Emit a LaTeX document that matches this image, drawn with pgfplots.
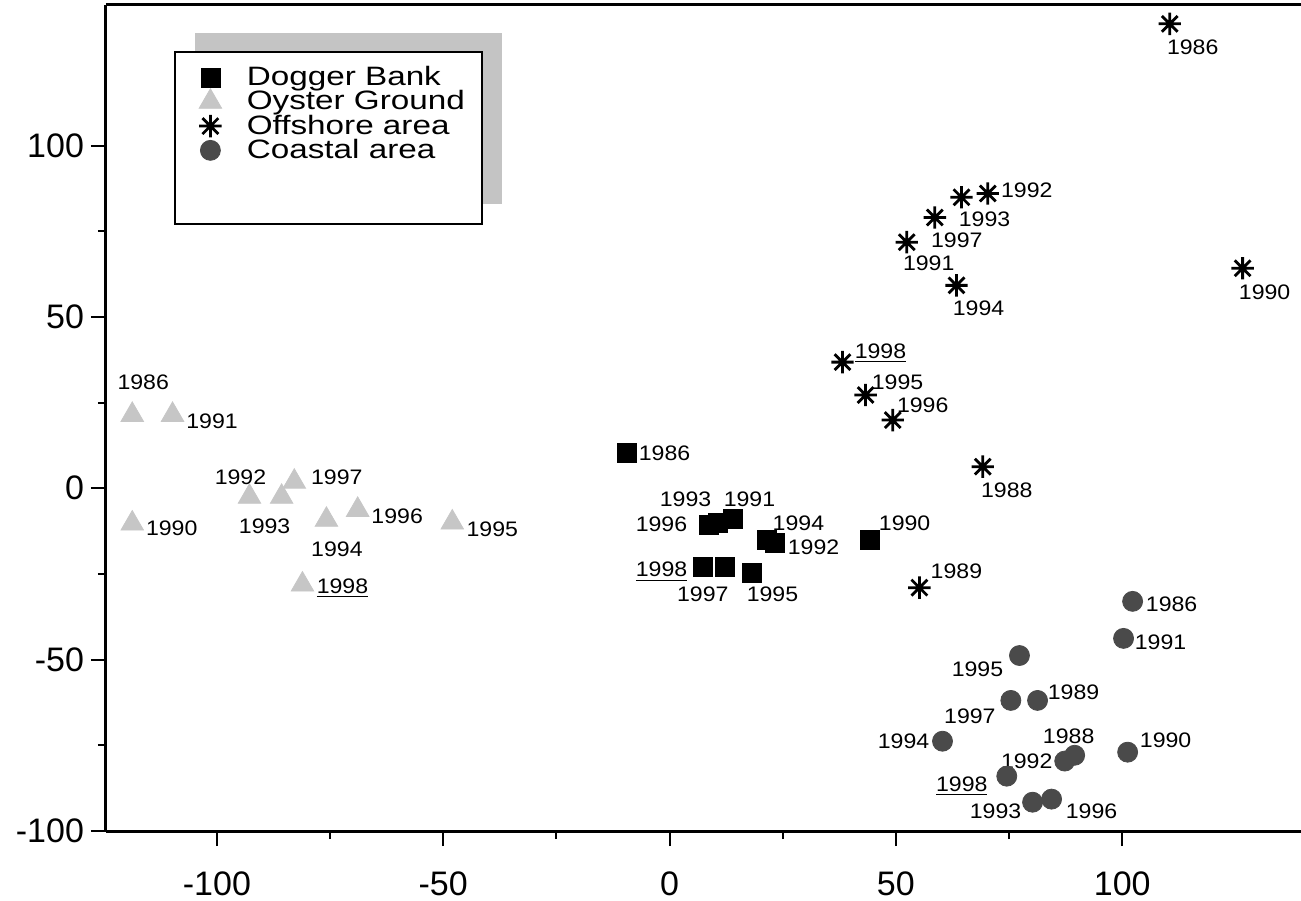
\documentclass[border=0pt]{standalone}
\usepackage{fontspec}
\setmainfont{Liberation Sans}
\newfontfamily\legfont[FakeStretch=1.25]{Liberation Sans}
\newfontfamily\labfont[FakeStretch=1.1]{Liberation Sans}
\usepackage{pgfplots}
\pgfplotsset{compat=1.18}

\definecolor{oyster}{HTML}{C6C6C6}
\definecolor{coastal}{HTML}{4A4A4A}
\definecolor{shadowgray}{HTML}{C4C4C4}

% eight-armed star, as in the original
\pgfdeclareplotmark{star8}{%
  \pgfpathmoveto{\pgfqpoint{0pt}{\pgfplotmarksize}}\pgfpathlineto{\pgfqpoint{0pt}{-\pgfplotmarksize}}%
  \pgfpathmoveto{\pgfqpoint{\pgfplotmarksize}{0pt}}\pgfpathlineto{\pgfqpoint{-\pgfplotmarksize}{0pt}}%
  \pgfpathmoveto{\pgfqpointpolar{45}{\pgfplotmarksize}}\pgfpathlineto{\pgfqpointpolar{225}{\pgfplotmarksize}}%
  \pgfpathmoveto{\pgfqpointpolar{135}{\pgfplotmarksize}}\pgfpathlineto{\pgfqpointpolar{315}{\pgfplotmarksize}}%
  \pgfusepathqstroke}

% year label next to a point: x, y, xshift(pt), yshift(pt), text
\newcommand{\lab}[5]{\node[inner sep=0pt, font=\labfont\fontsize{10.5}{12}\selectfont,
  xshift=#3pt, yshift=#4pt] at (axis cs:#1,#2) {#5};}

\begin{document}
\begin{tikzpicture}
\begin{axis}[
    scale only axis,
    width=597.5pt, height=413pt,
    xmin=-124.5, xmax=139.5,
    ymin=-100, ymax=141,
    axis x line=box, axis y line=left,
    axis line style={-, line width=1.5pt},
    xtick={-100,-50,...,100}, ytick={-100,-50,...,100},
    minor x tick num=1, minor y tick num=1,
    xtick pos=bottom,
    tick align=outside,
    major tick length=7.5pt, minor tick length=4pt,
    every tick/.style={black, line width=1pt},
    tick label style={font=\fontsize{17}{20}\selectfont},
    xticklabel style={yshift=-9.5pt},
    /pgf/number format/assume math mode=true,
    clip=false,
    legend style={at={(axis description cs:0.0577,0.9431)}, anchor=north west,
      draw=none, fill=none, font=\legfont\fontsize{13.3}{14}\selectfont,
      row sep=-3pt, inner xsep=11.9pt, inner ysep=5pt,
      /tikz/every odd column/.append style={column sep=10.6pt}},
    legend cell align=left,
]

% legend box with its shadow
\fill[shadowgray] (axis description cs:0.0745,0.9661) rectangle (axis description cs:0.3314,0.7591);
\draw[line width=1pt, fill=white] (axis description cs:0.0577,0.9431) rectangle (axis description cs:0.3146,0.7349);

% Dogger Bank
\addplot[only marks, mark=square*, mark size=4.75pt, color=black]
coordinates {
  (-9.5,10.3) (8.6,-10.6) (10.6,-10.0) (13.9,-8.9) (21.4,-15.0)
  (23.2,-15.9) (44.2,-15.0) (7.3,-22.9) (12.2,-22.9) (18.1,-24.6)
};
\addlegendentry{Dogger Bank}

% Oyster Ground
\addplot[only marks, mark=triangle*, mark size=6.5pt, color=oyster]
coordinates {
  (-118.7,21.4) (-109.8,21.4) (-118.7,-10.3) (-92.8,-2.5) (-85.7,-2.5)
  (-82.9,1.9) (-75.8,-9.2) (-68.9,-6.3) (-48.0,-10.0) (-81.1,-28.1)
};
\addlegendentry{Oyster Ground}

% Offshore area
\addplot[only marks, mark=star8, mark size=5.6pt, color=black, mark options={line width=1.4pt}]
coordinates {
  (110.5,135.5) (70.3,86.0) (64.5,84.9) (58.6,79.0) (52.4,71.8)
  (63.4,59.2) (126.6,64.2) (38.2,36.8) (43.3,27.2) (49.3,19.9)
  (69.2,6.3) (55.2,-29.0)
};
\addlegendentry{Offshore area}

% Coastal area
\addplot[only marks, mark=*, mark size=5pt, color=coastal]
coordinates {
  (102.3,-33.0) (100.3,-43.8) (77.3,-48.8) (75.4,-61.9) (81.3,-61.9)
  (60.3,-73.8) (101.2,-77.0) (89.5,-77.9) (87.3,-79.6) (74.5,-84.0)
  (80.2,-91.6) (84.4,-90.7)
};
\addlegendentry{Coastal area}

% labels, Oyster Ground
\lab{-118.7}{21.4}{5.5}{16.25}{1986}
\lab{-109.8}{21.4}{19.75}{-3}{1991}
\lab{-118.7}{-10.3}{19.75}{-2.5}{1990}
\lab{-92.8}{-2.5}{-4.5}{9.75}{1992}
\lab{-85.7}{-2.5}{-8.5}{-14.5}{1993}
\lab{-82.9}{1.9}{21.25}{2.25}{1997}
\lab{-75.8}{-9.2}{5.25}{-14.5}{1994}
\lab{-68.9}{-6.3}{19.75}{-3}{1996}
\lab{-48.0}{-10.0}{20}{-3.5}{1995}
\lab{-81.1}{-28.1}{20}{-2}{\underline{1998}}

% labels, Dogger Bank
\lab{-9.5}{10.3}{19}{0}{1986}
\lab{8.6}{-10.6}{-23.5}{0}{1996}
\lab{10.6}{-10.0}{-16}{11.5}{1993}
\lab{13.9}{-8.9}{8.5}{9.5}{1991}
\lab{21.4}{-15.0}{16}{8}{1994}
\lab{23.2}{-15.9}{19.5}{-2.5}{1992}
\lab{44.2}{-15.0}{17.5}{8}{1990}
\lab{7.3}{-22.9}{-20.5}{-2.5}{\underline{1998}}
\lab{12.2}{-22.9}{-11}{-14}{1997}
\lab{18.1}{-24.6}{10.5}{-11}{1995}

% labels, Offshore area
\lab{110.5}{135.5}{11.5}{-11.5}{1986}
\lab{70.3}{86.0}{19.5}{1.5}{1992}
\lab{64.5}{84.9}{11.5}{-11}{1993}
\lab{58.6}{79.0}{11}{-11.5}{1997}
\lab{52.4}{71.8}{11}{-10.5}{1991}
\lab{63.4}{59.2}{11}{-11.5}{1994}
\lab{126.6}{64.2}{11}{-12}{1990}
\lab{38.2}{36.8}{19}{4.25}{\underline{1998}}
\lab{43.3}{27.2}{16}{6.5}{1995}
\lab{49.3}{19.9}{15}{7.5}{1996}
\lab{69.2}{6.3}{12}{-12}{1988}
\lab{55.2}{-29.0}{18.5}{8}{1989}

% labels, Coastal area
\lab{102.3}{-33.0}{19.5}{-1.5}{1986}
\lab{100.3}{-43.8}{18.5}{-2}{1991}
\lab{77.3}{-48.8}{-21}{-7}{1995}
\lab{75.4}{-61.9}{-20.5}{-8}{1997}
\lab{81.3}{-61.9}{18}{4}{1989}
\lab{60.3}{-73.8}{-19.5}{0}{1994}
\lab{101.2}{-77.0}{19}{6}{1990}
\lab{89.5}{-77.9}{-3}{9.5}{1988}
\lab{87.3}{-79.6}{-19}{0}{1992}
\lab{74.5}{-84.0}{-22.5}{-5}{\underline{1998}}
\lab{80.2}{-91.6}{-18.5}{-4.5}{1993}
\lab{84.4}{-90.7}{20}{-6}{1996}

\end{axis}
% page = reference frame round the axis box
\pgfresetboundingbox
\path[use as bounding box] ([xshift=-53pt,yshift=-34.5pt]current axis.south west)
  rectangle ([yshift=2.5pt]current axis.north east);
\end{tikzpicture}
\end{document}
